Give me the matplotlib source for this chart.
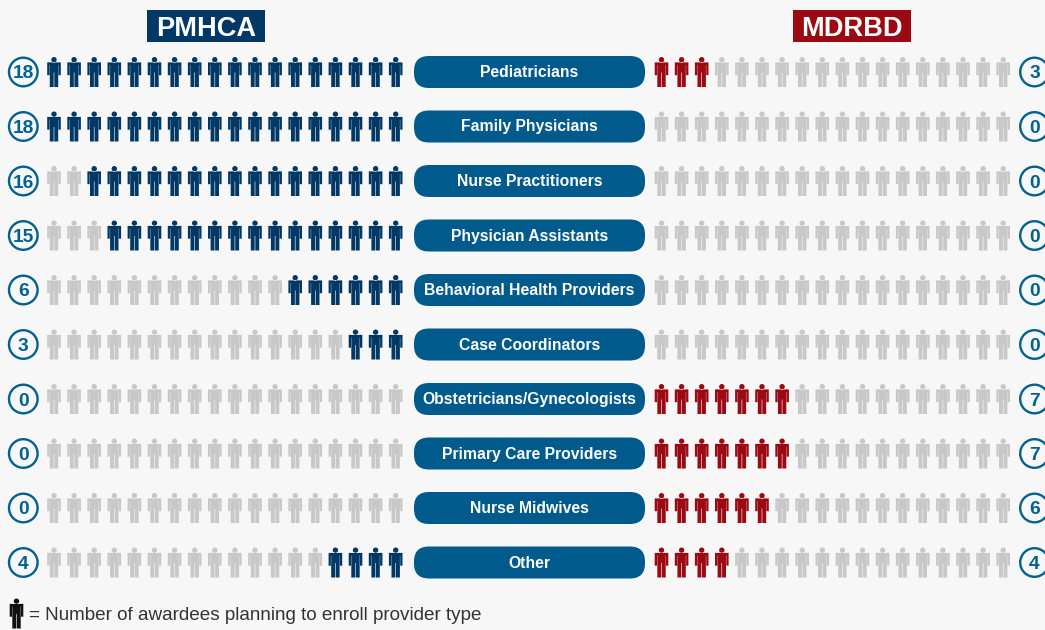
import numpy as np
import matplotlib
matplotlib.use("Agg")
import matplotlib.pyplot as plt
from matplotlib.path import Path
from matplotlib.patches import FancyBboxPatch, Rectangle, Circle

plt.rcParams['font.family'] = ['Liberation Sans', 'DejaVu Sans']

categories = ["Pediatricians", "Family Physicians", "Nurse Practitioners", "Physician Assistants",
              "Behavioral Health Providers", "Case Coordinators", "Obstetricians/Gynecologists",
              "Primary Care Providers", "Nurse Midwives", "Other"]
pmhca = [18, 18, 16, 15, 6, 3, 0, 0, 0, 4]
mdrbd = [3, 0, 0, 0, 0, 0, 7, 7, 6, 4]
TOTAL = 18

BG = "#f7f7f7"; NAVY = "#003865"; RED = "#9b0a12"; GREY = "#c8c8c8"; PILL = "#005a8c"; RING = "#00608f"

fig = plt.figure(figsize=(10.45, 6.30), dpi=100, facecolor=BG)
ax = fig.add_axes([0, 0, 1, 1])
ax.set_xlim(0, 1045); ax.set_ylim(630, 0); ax.axis("off")

# person glyph, y up, centred on 0, half height 15
body = np.array([[-6.8, 9.6], [6.8, 9.6], [6.8, -3.2], [4.5, -3.2], [4.5, 7], [4.2, 7], [4.2, -15], [0.3, -15], [0.3, -0.5],
                 [-0.3, -0.5], [-0.3, -15], [-4.2, -15], [-4.2, 7], [-4.5, 7], [-4.5, -3.2], [-6.8, -3.2], [-6.8, 9.6]])
head = Path.circle((0, 12.3), 2.7)
person = Path.make_compound_path(head, Path(body, closed=True))
person = Path(np.vstack([person.vertices, [[0, -15], [0, 15]]]),
              np.concatenate([person.codes, [Path.MOVETO, Path.MOVETO]]))
S = (30 * 72 / 100) ** 2

STEP_X = 20.1
LEFT_X0, RIGHT_X0 = 54.0, 661.5
Y0, STEP_Y = 72.0, 54.5

def icons(xs, ys, colors):
    coll = ax.scatter(xs, ys, s=S, marker=person, c=colors, linewidths=0)
    coll.set_snap(False)

for i, (name, a, b) in enumerate(zip(categories, pmhca, mdrbd)):
    y = Y0 + i * STEP_Y
    lx = LEFT_X0 + np.arange(TOTAL) * STEP_X
    rx = RIGHT_X0 + np.arange(TOTAL) * STEP_X
    lc = [NAVY if k >= TOTAL - a else GREY for k in range(TOTAL)]
    rc = [RED if k < b else GREY for k in range(TOTAL)]
    icons(lx, [y] * TOTAL, lc)
    icons(rx, [y] * TOTAL, rc)
    ax.add_patch(FancyBboxPatch((414 + 15, y - 16 + 15), 231 - 30, 32 - 30,
                                boxstyle="round,pad=15,rounding_size=15", fc=PILL, ec="none"))
    ax.text(529.5, y - 1, name, color="white", ha="center", va="center_baseline", fontsize=11.35, fontweight="bold")
    for cx, v in ((23.3, a), (1034.5, b)):
        ax.add_patch(Circle((cx, y), 14.3, fc="none", ec=RING, lw=1.7))
        ax.text(cx, y, str(v), color=RING, ha="center", va="center_baseline", fontsize=13.8, fontweight="bold")

for x0, w, col, label in ((147, 118, NAVY, "PMHCA"), (793, 118, RED, "MDRBD")):
    ax.add_patch(Rectangle((x0, 10), w, 32, fc=col, ec="none"))
    ax.text(x0 + w / 2, 26, label, color="white", ha="center", va="center_baseline", fontsize=19.6, fontweight="bold")

icons([15.5], [613], ["#111111"])
ax.text(29, 620, "= Number of awardees planning to enroll provider type", color="#333333",
        ha="left", va="baseline", fontsize=13.6)

fig.savefig("out.png", dpi=100, facecolor=BG)
